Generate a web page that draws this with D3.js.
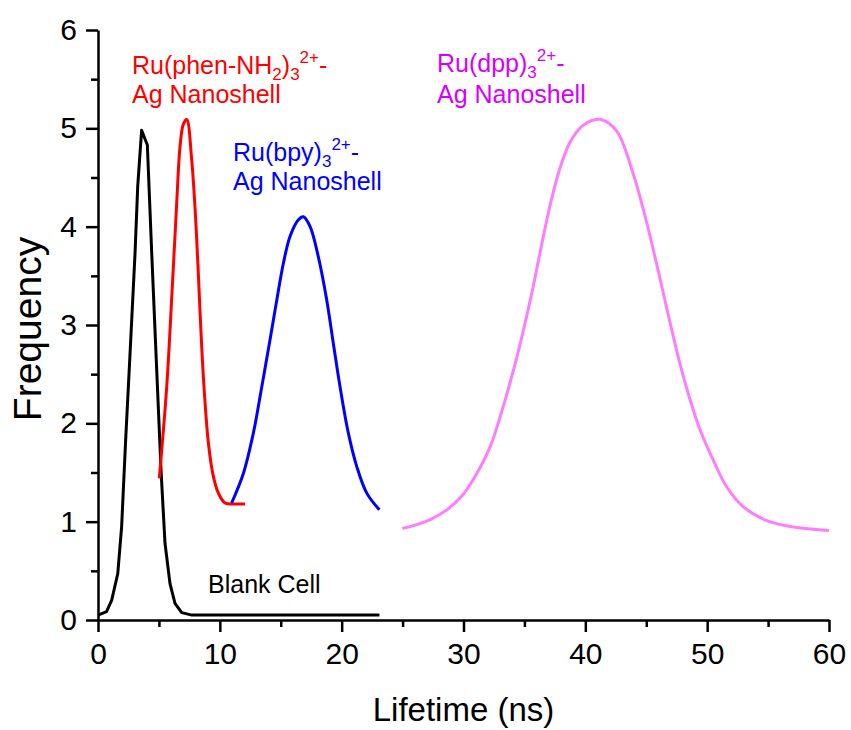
<!DOCTYPE html>
<html lang="en">
<head>
<meta charset="UTF-8">
<title>Lifetime distributions</title>
<script src="https://d3js.org/d3.v7.min.js"></script>
<style>
  body { margin: 0; background: #fff; }
  svg text { font-family: "Liberation Sans", Arial, sans-serif; }
</style>
</head>
<body>
<svg width="851" height="730"></svg>
<script>
// values: [lifetime (ns), frequency]
var blankCell = [
  [0, 0.05], [0.7, 0.085], [1.12, 0.2], [1.62, 0.47], [1.94, 0.95], [2.27, 1.83],
  [2.63, 2.71], [3.04, 3.73], [3.26, 4.41], [3.58, 4.98], [4.05, 4.83], [4.41, 3.73],
  [4.82, 2.54], [5.17, 1.53], [5.5, 0.78], [5.91, 0.37], [6.32, 0.17], [6.87, 0.075],
  [7.7, 0.05], [12, 0.05], [18, 0.05], [23.1, 0.05]
];
var phenNH2 = [
  [5.03, 1.44], [5.64, 2.37], [6.1, 3.39], [6.46, 4.24], [6.73, 4.81], [7.0, 5.04],
  [7.28, 5.09], [7.69, 4.68], [8.05, 4.0], [8.37, 3.15], [8.65, 2.47], [9.06, 1.8],
  [9.47, 1.46], [9.88, 1.29], [10.43, 1.19], [11.2, 1.18], [12.07, 1.18]
];
var bpy = [
  [10.97, 1.19], [11.93, 1.49], [12.75, 1.9], [13.44, 2.37], [14.12, 2.85], [14.67, 3.25],
  [15.22, 3.63], [15.76, 3.9], [16.45, 4.07], [16.86, 4.1], [17.41, 4.0], [18.09, 3.69],
  [18.78, 3.25], [19.32, 2.81], [19.87, 2.37], [20.55, 1.9], [21.24, 1.56], [22.06, 1.29],
  [23.1, 1.12]
];
var dpp = [
  [24.98, 0.93], [26.17, 0.97], [27.26, 1.02], [28.63, 1.12], [29.86, 1.26], [30.95, 1.46],
  [32.18, 1.76], [33.14, 2.12], [34.1, 2.54], [34.79, 2.88], [35.6, 3.32], [36.29, 3.74],
  [37.11, 4.22], [37.93, 4.6], [38.75, 4.86], [39.71, 5.02], [40.53, 5.08], [41.3, 5.09],
  [42.59, 4.97], [43.95, 4.53], [44.77, 4.17], [45.59, 3.76], [46.28, 3.39], [46.96, 3.02],
  [47.78, 2.6], [48.6, 2.24], [49.43, 1.93], [50.52, 1.62], [51.62, 1.35], [52.98, 1.15],
  [54.9, 1.01], [56.81, 0.95], [60, 0.91]
];

var xTicks = [0, 10, 20, 30, 40, 50, 60];
var xMinor = [5, 15, 25, 35, 45, 55];
var yTicks = [0, 1, 2, 3, 4, 5, 6];
var yMinor = [0.5, 1.5, 2.5, 3.5, 4.5, 5.5];

var svg = d3.select('svg');
var margin = { left: 98, top: 30, right: 22, bottom: 110 };
var width = 851 - margin.left - margin.right,
    height = 730 - margin.top - margin.bottom;

var g = svg.append('g').attr('transform', 'translate(' + margin.left + ',' + margin.top + ')');

var x = d3.scaleLinear().domain([0, 60]).range([0, width]);
var y = d3.scaleLinear().domain([0, 6]).range([height, 0]);

// minor ticks first, then the major axis on top
g.append('g')
    .attr('transform', 'translate(0,' + height + ')')
    .call(d3.axisBottom(x).tickValues(xMinor).tickSize(7).tickFormat(''))
    .call(function(a) { a.select('.domain').remove(); });
g.append('g')
    .call(d3.axisLeft(y).tickValues(yMinor).tickSize(7).tickFormat(''))
    .call(function(a) { a.select('.domain').remove(); });

g.append('g')
    .attr('transform', 'translate(0,' + height + ')')
    .call(d3.axisBottom(x).tickValues(xTicks).tickFormat(d3.format('d'))
      .tickSize(12).tickSizeOuter(0).tickPadding(11));
g.append('g')
    .call(d3.axisLeft(y).tickValues(yTicks).tickFormat(d3.format('d'))
      .tickSize(12).tickSizeOuter(0).tickPadding(9));

g.selectAll('.domain').attr('stroke-width', 2.5).attr('stroke', '#000');
g.selectAll('.tick line').attr('stroke-width', 2.5).attr('stroke', '#000');
g.selectAll('.tick text').attr('font-size', 30).attr('fill', '#000')
    .style('font-family', '"Liberation Sans", Arial, sans-serif');

// curves
var line = d3.line().x(function(d) { return x(d[0]); }).y(function(d) { return y(d[1]); });

function drawCurve(data, color, curve) {
  g.append('path')
      .datum(data)
      .attr('fill', 'none')
      .attr('stroke', color)
      .attr('stroke-width', 3)
      .attr('stroke-linejoin', 'round')
      .attr('d', line.curve(curve));
}
drawCurve(blankCell, '#000000', d3.curveLinear);
drawCurve(phenNH2, '#ff0000', d3.curveCatmullRom.alpha(0.5));
drawCurve(bpy, '#0000ff', d3.curveCatmullRom.alpha(0.5));
drawCurve(dpp, '#ff7cff', d3.curveCatmullRom.alpha(0.5));

// labels with sub/superscripts
function richLabel(px, py, parts, color) {
  var t = svg.append('text').attr('x', px).attr('y', py)
      .attr('fill', color).attr('font-size', 25);
  var cur = 0;
  parts.forEach(function(p) {
    var off = p.s === 'sub' ? 6 : (p.s === 'sup' ? -11 : 0);
    t.append('tspan')
        .attr('dy', off - cur)
        .attr('font-size', p.s ? 17 : 25)
        .text(p.t);
    cur = off;
  });
}

richLabel(132, 74, [{t: 'Ru(phen-NH'}, {t: '2', s: 'sub'}, {t: ')'}, {t: '3', s: 'sub'}, {t: '2+', s: 'sup'}, {t: '-'}], '#ff0000');
svg.append('text').attr('x', 132).attr('y', 103).attr('fill', '#ff0000').attr('font-size', 25).text('Ag Nanoshell');

richLabel(233, 161, [{t: 'Ru(bpy)'}, {t: '3', s: 'sub'}, {t: '2+', s: 'sup'}, {t: '-'}], '#0000ff');
svg.append('text').attr('x', 233).attr('y', 190).attr('fill', '#0000ff').attr('font-size', 25).text('Ag Nanoshell');

richLabel(437, 72, [{t: 'Ru(dpp)'}, {t: '3', s: 'sub'}, {t: '2+', s: 'sup'}, {t: '-'}], '#d400ff');
svg.append('text').attr('x', 437).attr('y', 103).attr('fill', '#d400ff').attr('font-size', 25).text('Ag Nanoshell');

svg.append('text').attr('x', 208).attr('y', 593).attr('fill', '#000').attr('font-size', 25).text('Blank Cell');

// axis titles
svg.append('text')
    .attr('x', margin.left + width / 2).attr('y', 721)
    .attr('text-anchor', 'middle').attr('font-size', 33).text('Lifetime (ns)');
svg.append('text')
    .attr('transform', 'translate(41,' + (margin.top + height / 2 + 4) + ') rotate(-90)')
    .attr('text-anchor', 'middle').attr('font-size', 39).text('Frequency');
</script>
</body>
</html>
